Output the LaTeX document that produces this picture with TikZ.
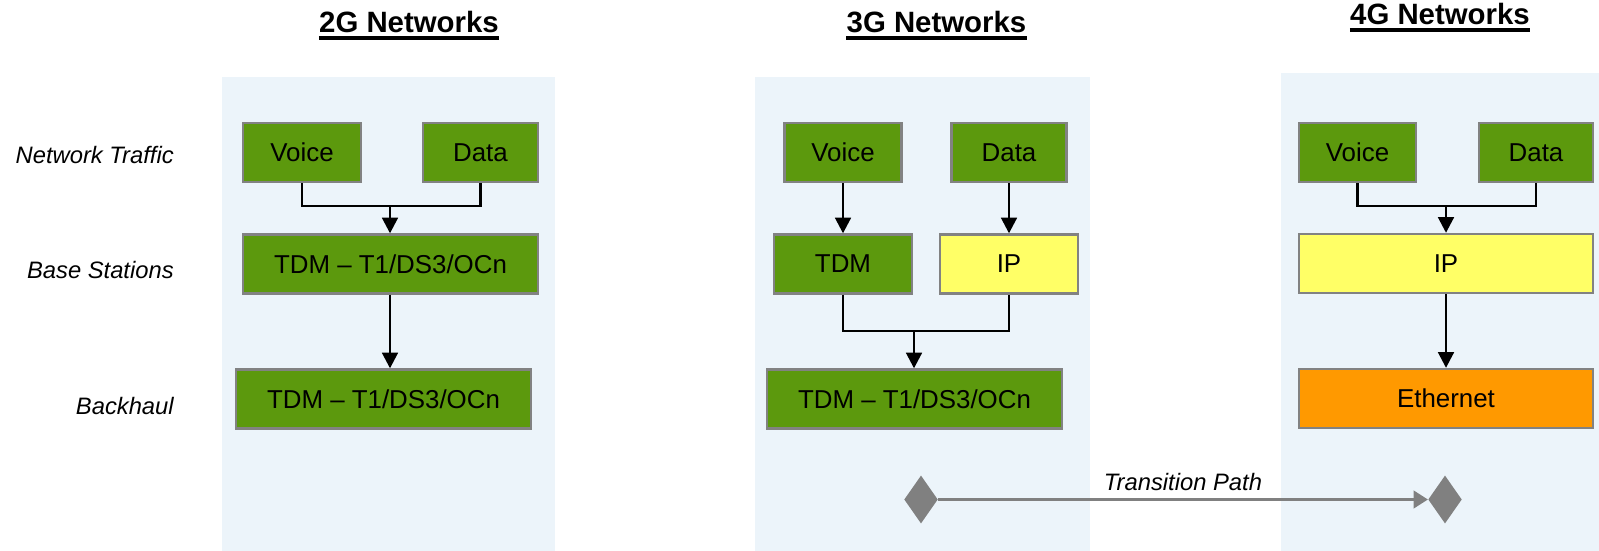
\documentclass[tikz,border=0pt]{standalone}
\usepackage{fontspec}
\setmainfont{Liberation Sans}
\usetikzlibrary{arrows.meta,shapes.geometric}
\definecolor{panelbg}{RGB}{236,244,250}
\definecolor{netgreen}{RGB}{92,153,13}
\definecolor{netyellow}{RGB}{255,255,102}
\definecolor{netorange}{RGB}{255,153,0}
\definecolor{boxline}{RGB}{130,130,130}
\definecolor{pathgray}{RGB}{128,128,128}
\begin{document}
\begin{tikzpicture}[x=0.025cm,y=-0.025cm,
	>={Triangle[length=3.9mm,width=3.9mm]},
	box/.style={draw=boxline,line width=1.8pt,inner sep=0pt,minimum height=14.7mm,font=\fontsize{18.4}{22}\selectfont},
	greenbox/.style={box,fill=netgreen},
	yellowbox/.style={box,fill=netyellow},
	orangebox/.style={box,fill=netorange},
	title/.style={font=\bfseries\fontsize{20.9}{25}\selectfont,inner sep=0pt,anchor=base},
	rowlabel/.style={font=\itshape\fontsize{16.9}{20}\selectfont,inner sep=0pt,anchor=east},
	uline/.style={line width=2.4pt},
	wire/.style={line width=1.9pt},
	link/.style={wire,->},
	gem/.style={diamond,fill=pathgray,inner sep=0pt,minimum width=8.4mm,minimum height=12mm},
	trans/.style={draw=pathgray,line width=2pt,-{Triangle[length=3.6mm,width=4.4mm]}}]
	\useasboundingbox (0,0) rectangle (1599,551);
	\fill[panelbg] (222,77) rectangle (555,551);
	\fill[panelbg] (755,77) rectangle (1090,551);
	\fill[panelbg] (1281,73) rectangle (1599,551);

	\node[title] (t2) at (409,33) {2G Networks};
	\node[title] (t3) at (936.5,33) {3G Networks};
	\node[title] (t4) at (1440,25) {4G Networks};
	\draw[uline] ([shift={(0,5)}]t2.base west) -- ([shift={(0,5)}]t2.base east);
	\draw[uline] ([shift={(0,5)}]t3.base west) -- ([shift={(0,5)}]t3.base east);
	\draw[uline] ([shift={(0,5)}]t4.base west) -- ([shift={(0,5)}]t4.base east);

	\node[rowlabel] (traffic) at (174,155) {Network Traffic};
	\node[rowlabel] (stations) at (174,270) {Base Stations};
	\node[rowlabel] (backhaul) at (174,406) {Backhaul};

	\node[greenbox,minimum width=29.5mm] (v2) at (302,152.5) {Voice};
	\node[greenbox,minimum width=28.75mm] (d2) at (480.5,152.5) {Data};
	\node[greenbox,minimum width=73.75mm] (b2) at (390.5,264) {TDM – T1/DS3/OCn};
	\node[greenbox,minimum width=73.75mm] (h2) at (383.5,399) {TDM – T1/DS3/OCn};
	\coordinate (m2) at (390,206);
	\draw[wire] (v2.south) |- (m2) -| (d2.south);
	\draw[link] (m2) -- (m2 |- b2.north);
	\draw[link] (b2.south -| m2) -- (m2 |- h2.north);

	\node[greenbox,minimum width=29.25mm] (v3) at (843,152.5) {Voice};
	\node[greenbox,minimum width=28.75mm] (d3) at (1009,152.5) {Data};
	\node[greenbox,minimum width=34.5mm] (t3b) at (843,264) {TDM};
	\node[yellowbox,minimum width=34.5mm] (i3) at (1009,264) {IP};
	\node[greenbox,minimum width=73.75mm] (h3) at (914.5,399) {TDM – T1/DS3/OCn};
	\draw[link] (v3) -- (t3b);
	\draw[link] (d3) -- (i3);
	\coordinate (m3) at (914,331);
	\draw[wire] (t3b.south) |- (m3) -| (i3.south);
	\draw[link] (m3) -- (m3 |- h3.north);

	\node[greenbox,minimum width=29.25mm] (v4) at (1357.5,152.5) {Voice};
	\node[greenbox,minimum width=28.5mm] (d4) at (1536,152.5) {Data};
	\node[yellowbox,minimum width=73.5mm] (i4) at (1446,263.5) {IP};
	\node[orangebox,minimum width=73.5mm] (e4) at (1446,398.5) {Ethernet};
	\coordinate (m4) at (1446,206);
	\draw[wire] (v4.south) |- (m4) -| (d4.south);
	\draw[link] (m4) -- (m4 |- i4.north);
	\draw[link] (i4) -- (e4);

	\node[gem] (g3) at (921,499.5) {};
	\node[gem] (g4) at (1445,499.5) {};
	\draw[trans] (g3) -- (g4) node[midway,anchor=base,yshift=2.3mm,inner sep=0pt,font=\itshape\fontsize{16.9}{20}\selectfont] (tp) {Transition Path};
\end{tikzpicture}
\end{document}
